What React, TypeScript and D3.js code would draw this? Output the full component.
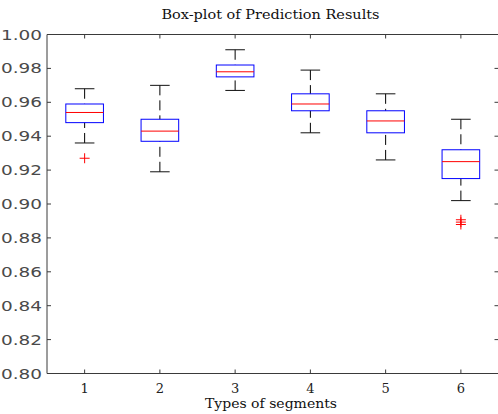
import React from "react";
import * as d3 from "d3";

const categories = ["1", "2", "3", "4", "5", "6"];
const whiskerLow = [0.936, 0.919, 0.967, 0.942, 0.926, 0.902];
const q1 = [0.948, 0.937, 0.975, 0.955, 0.942, 0.915];
const medians = [0.954, 0.943, 0.978, 0.959, 0.949, 0.925];
const q3 = [0.959, 0.95, 0.982, 0.965, 0.955, 0.932];
const whiskerHigh = [0.968, 0.97, 0.991, 0.979, 0.965, 0.95];
const outlierCats = [1, 6, 6, 6];
const outlierVals = [0.927, 0.8907, 0.8893, 0.8879];
const yTicks = [0.8, 0.82, 0.84, 0.86, 0.88, 0.9, 0.92, 0.94, 0.96, 0.98, 1.0];

const W = 498;
const H = 414;
const left = 47;
const right = 498.5;
const top = 34.5;
const bottom = 373.5;

export default function App() {
  const x = d3.scaleLinear().domain([0.5, 6.5]).range([left, right]);
  const y = d3.scaleLinear().domain([0.8, 1.0]).range([bottom, top]);
  const boxHalf = 0.25;
  const capHalf = 0.13;
  const axisColor = "#3a3a3a";
  const serif = "'DejaVu Serif', serif";
  return (
    <svg
      width={W}
      height={H}
      style={{ position: "absolute", left: 0, top: 0, background: "#fff" }}
    >
      <rect x={0} y={0} width={W} height={H} fill="#fff" />
      {/* frame */}
      <line x1={left} x2={W + 2} y1={top} y2={top} stroke={axisColor} strokeWidth={1} />
      <line x1={left} x2={W + 2} y1={bottom} y2={bottom} stroke={axisColor} strokeWidth={1} />
      <line x1={left} x2={left} y1={top} y2={bottom} stroke={axisColor} strokeWidth={1} />
      <line x1={right} x2={right} y1={top} y2={bottom} stroke={axisColor} strokeWidth={1} />
      {/* y ticks */}
      {yTicks.map((t) => (
        <g key={t}>
          <line x1={left} x2={left + 4} y1={y(t)} y2={y(t)} stroke={axisColor} />
          <line x1={right - 4} x2={right} y1={y(t)} y2={y(t)} stroke={axisColor} />
          <text
            x={42}
            y={y(t) + 5}
            textAnchor="end"
            fontFamily="'DejaVu Sans', sans-serif"
            fontSize={14}
            fill="#4a4a4a"
            textLength={41}
            lengthAdjust="spacingAndGlyphs"
          >
            {d3.format(".2f")(t)}
          </text>
        </g>
      ))}
      {/* x ticks */}
      {categories.map((c, i) => (
        <g key={c}>
          <line x1={x(i + 1)} x2={x(i + 1)} y1={bottom} y2={bottom - 4} stroke={axisColor} />
          <line x1={x(i + 1)} x2={x(i + 1)} y1={top} y2={top + 4} stroke={axisColor} />
          <text
            x={x(i + 1)}
            y={392.5}
            textAnchor="middle"
            fontFamily={serif}
            fontSize={13}
            fill="#222"
          >
            {c}
          </text>
        </g>
      ))}
      {/* boxes */}
      {categories.map((c, i) => {
        const cx = x(i + 1);
        const bx0 = x(i + 1 - boxHalf);
        const bx1 = x(i + 1 + boxHalf);
        const cx0 = x(i + 1 - capHalf);
        const cx1 = x(i + 1 + capHalf);
        return (
          <g key={"b" + c}>
            <line x1={cx} x2={cx} y1={y(whiskerHigh[i])} y2={y(q3[i])} stroke="#000" strokeDasharray="10,5" />
            <line x1={cx} x2={cx} y1={y(whiskerLow[i])} y2={y(q1[i])} stroke="#000" strokeDasharray="10,5" />
            <line x1={cx0} x2={cx1} y1={y(whiskerHigh[i])} y2={y(whiskerHigh[i])} stroke="#111" />
            <line x1={cx0} x2={cx1} y1={y(whiskerLow[i])} y2={y(whiskerLow[i])} stroke="#111" />
            <rect
              x={bx0}
              y={y(q3[i])}
              width={bx1 - bx0}
              height={y(q1[i]) - y(q3[i])}
              fill="none"
              stroke="#0000ff"
              strokeWidth={1}
            />
            <line x1={bx0} x2={bx1} y1={y(medians[i])} y2={y(medians[i])} stroke="#ff0000" strokeWidth={1} />
          </g>
        );
      })}
      {/* outliers */}
      {outlierVals.map((v, k) => {
        const cx = x(outlierCats[k]);
        const cy = y(v);
        return (
          <g key={"o" + k} stroke="#ff0000" strokeWidth={1}>
            <line x1={cx - 5} x2={cx + 5} y1={cy} y2={cy} />
            <line x1={cx} x2={cx} y1={cy - 5} y2={cy + 5} />
          </g>
        );
      })}
      {/* title and label */}
      <text
        x={161.5}
        y={19}
        fontFamily={serif}
        fontSize={13}
        fill="#111"
        textLength={218}
        lengthAdjust="spacingAndGlyphs"
      >
        Box-plot of Prediction Results
      </text>
      <text
        x={205}
        y={408}
        fontFamily={serif}
        fontSize={13.5}
        fill="#111"
        textLength={132}
        lengthAdjust="spacingAndGlyphs"
      >
        Types of segments
      </text>
    </svg>
  );
}
